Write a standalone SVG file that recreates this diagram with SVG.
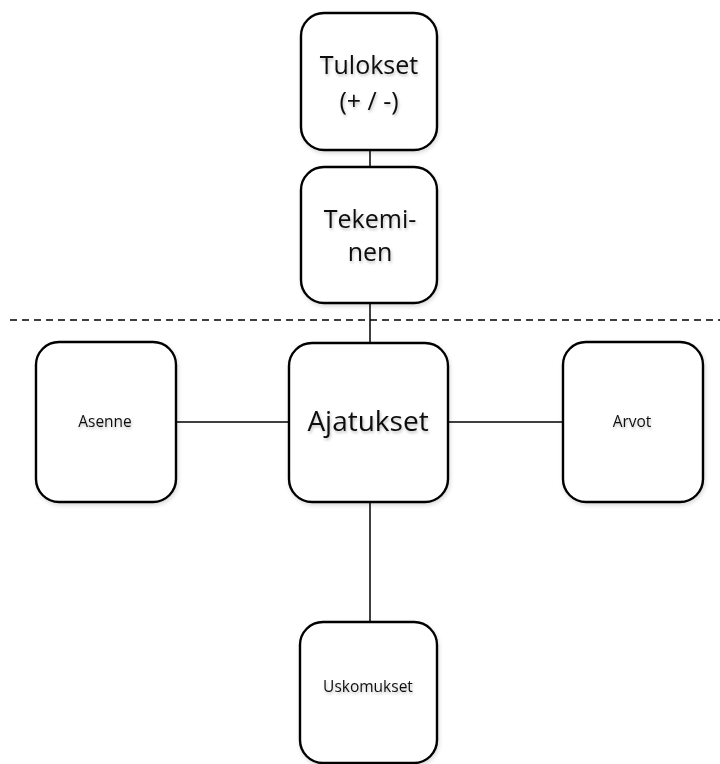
<svg xmlns="http://www.w3.org/2000/svg" width="720" height="764" viewBox="0 0 720 764">
<defs>
<filter id="ts" x="-20%" y="-30%" width="140%" height="180%">
<feGaussianBlur in="SourceAlpha" stdDeviation="1.5"/>
<feOffset dx="1" dy="2" result="b"/>
<feComponentTransfer><feFuncA type="linear" slope="0.25"/></feComponentTransfer>
<feMerge><feMergeNode/><feMergeNode in="SourceGraphic"/></feMerge>
</filter>
<filter id="bs" x="-10%" y="-10%" width="120%" height="120%">
<feGaussianBlur in="SourceAlpha" stdDeviation="2"/>
<feOffset dx="1" dy="2"/>
<feComponentTransfer><feFuncA type="linear" slope="0.15"/></feComponentTransfer>
<feMerge><feMergeNode/><feMergeNode in="SourceGraphic"/></feMerge>
</filter>
</defs>
<style>
.box{fill:#fff;stroke:#000;stroke-width:2.4;filter:url(#bs)}
.t{font-family:"Open Sans","Noto Sans","Liberation Sans",sans-serif;fill:#111;text-anchor:middle;filter:url(#ts)}
.big{font-size:25px}
.xl{font-size:28px}
.sm{font-size:15.5px}
.c{stroke:#000;stroke-width:1.5;fill:none}
</style>
<rect width="720" height="764" fill="#fff"/>
<g id="connectors">
<line class="c" x1="370" y1="150" x2="370" y2="167"/>
<line class="c" x1="370" y1="303" x2="370" y2="343"/>
<line class="c" x1="176" y1="422" x2="289" y2="422"/>
<line class="c" x1="448" y1="422" x2="563" y2="422"/>
<line class="c" x1="370" y1="502" x2="370" y2="622"/>
<line x1="10" y1="320" x2="720" y2="320" stroke="#000" stroke-width="1.5" stroke-dasharray="7,5"/>
</g>
<g id="tulokset">
<rect class="box" x="301" y="13" width="136" height="137" rx="23"/>
<text class="t big" x="369" y="74">Tulokset</text>
<text class="t big" x="369" y="110">(+ / -)</text>
</g>
<g id="tekeminen">
<rect class="box" x="301" y="167" width="136" height="136" rx="23"/>
<text class="t big" x="370" y="228">Tekemi-</text>
<text class="t big" x="370" y="261">nen</text>
</g>
<g id="ajatukset">
<rect class="box" x="289" y="343" width="159" height="159" rx="23"/>
<text class="t xl" x="368" y="431">Ajatukset</text>
</g>
<g id="asenne">
<rect class="box" x="36" y="342" width="140" height="160" rx="23"/>
<text class="t sm" x="105" y="427">Asenne</text>
</g>
<g id="arvot">
<rect class="box" x="563" y="342" width="140" height="160" rx="23"/>
<text class="t sm" x="632" y="427">Arvot</text>
</g>
<g id="uskomukset">
<rect class="box" x="300" y="622" width="137" height="141" rx="23"/>
<text class="t sm" x="368" y="692">Uskomukset</text>
</g>
</svg>
